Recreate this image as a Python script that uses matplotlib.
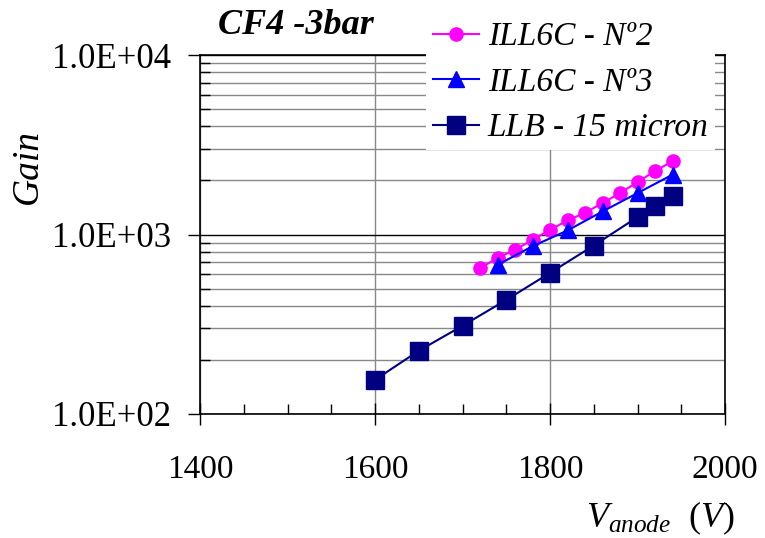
import matplotlib
matplotlib.use("Agg")
import matplotlib.pyplot as plt
from matplotlib import rc
from matplotlib.ticker import MultipleLocator, FixedLocator, LogLocator, NullFormatter, FuncFormatter

rc("font", **{"family": "serif", "serif": ["Liberation Serif"]})
rc("mathtext", fontset="custom", rm="Liberation Serif", it="Liberation Serif:italic")

# data
v_ill2 = [1720, 1740, 1760, 1780, 1800, 1820, 1840, 1860, 1880, 1900, 1920, 1940]
gain_ill2 = [648, 741, 821, 934, 1062, 1197, 1322, 1496, 1701, 1960, 2258, 2557]

v_ill3 = [1740, 1780, 1820, 1860, 1900, 1940]
gain_ill3 = [677, 860, 1053, 1344, 1701, 2155]

v_llb = [1600, 1650, 1700, 1750, 1800, 1850, 1900, 1920, 1940]
gain_llb = [155, 225, 310, 432, 611, 868, 1250, 1433, 1645]

labels = ["ILL6C - Nº2", "ILL6C - Nº3", "LLB - 15 micron"]

fig = plt.figure(figsize=(7.65, 5.38), dpi=100)
ax = fig.add_axes([200 / 765, 1 - 414 / 538, 525 / 765, 359 / 538])

ax.plot(v_ill2, gain_ill2, color="#FF00FF", marker="o", markersize=9.5, lw=1.5, label=labels[0], zorder=3)
ax.plot(v_ill3, gain_ill3, color="#0000FF", marker="^", markersize=11, lw=1.5, label=labels[1], zorder=4)
ax.plot(v_llb, gain_llb, color="#000080", marker="s", markersize=13, lw=1.5, label=labels[2], zorder=5)

ax.set_yscale("log")
ax.set_xlim(1400, 2000)
ax.set_ylim(100, 10000)

ax.xaxis.set_major_locator(MultipleLocator(200))
ax.xaxis.set_minor_locator(MultipleLocator(50))
ax.yaxis.set_major_locator(FixedLocator([100, 1000, 10000]))
ax.yaxis.set_minor_locator(LogLocator(base=10, subs=range(2, 10)))
ax.yaxis.set_minor_formatter(NullFormatter())
ax.yaxis.set_major_formatter(FuncFormatter(lambda v, p: "%.1E" % v))

ax.tick_params(axis="x", which="major", direction="inout", length=16, width=1, labelsize=24, pad=21)
ax.tick_params(axis="x", which="minor", direction="in", length=7, width=1)
ax.tick_params(axis="y", which="major", direction="out", length=9, width=1, labelsize=25, pad=12)
ax.tick_params(axis="y", which="minor", direction="in", length=7, width=1)

ax.grid(True, axis="x", which="major", color="#888888", lw=1, zorder=0)
ax.grid(True, axis="y", which="minor", color="#888888", lw=1, zorder=0)
ax.grid(True, axis="y", which="major", color="black", lw=1, zorder=0)
for s in ax.spines.values():
    s.set_linewidth(1.2)

leg = ax.legend(loc="upper left", bbox_to_anchor=(426 / 765, 1 - 15 / 538),
                bbox_transform=fig.transFigure, borderaxespad=0, borderpad=0.2,
                prop={"family": "Liberation Serif", "style": "italic", "size": 24},
                handlelength=1.4, handletextpad=0.25, labelspacing=0.45,
                frameon=True, fancybox=False, framealpha=1)
leg.get_frame().set_edgecolor("none")
leg.get_frame().set_facecolor("white")
leg.set_zorder(10)

fig.text(296 / 765, 1 - 25 / 538, "CF4 -3bar", ha="center", va="center",
         fontsize=26, fontweight="bold", style="italic")
fig.text(28 / 765, 1 - 166 / 538, "Gain", ha="center", va="center",
         rotation=90, fontsize=27, style="italic")
fig.text(660 / 765, 1 - 518 / 538, r"$V_{anode}\ \ \mathit{(V)}$", ha="center", va="center",
         fontsize=26)

fig.savefig("out.png", dpi=100)
